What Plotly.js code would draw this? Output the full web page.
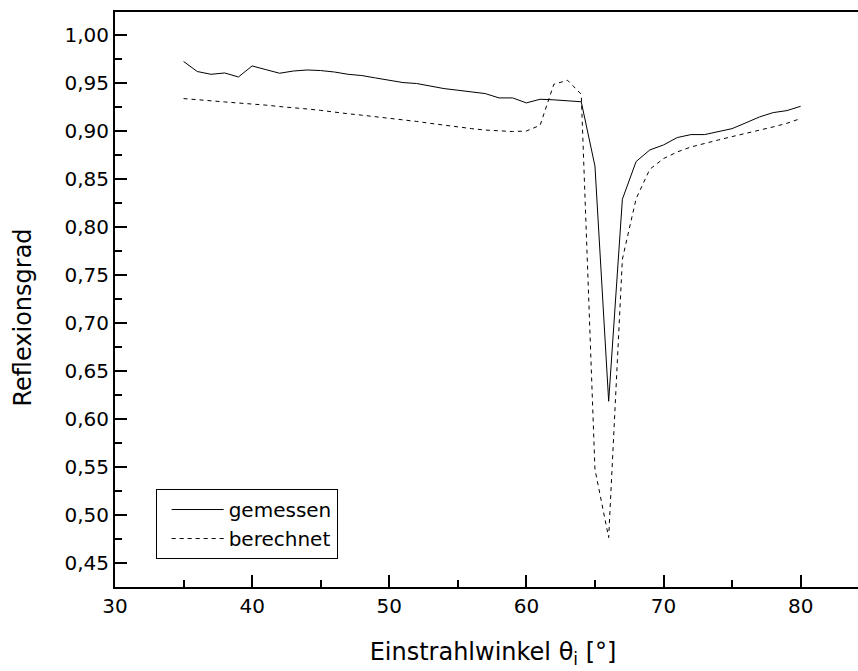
<!DOCTYPE html>
<html>
<head>
<meta charset="utf-8">
<script src="https://cdn.plot.ly/plotly-3.0.1.min.js"></script>
<style>
html, body { margin: 0; padding: 0; overflow: hidden; background: #fff; }
#chart { width: 872px; height: 671px; }
</style>
</head>
<body>
<div id="chart"></div>
<script>
const angles = [35,36,37,38,39,40,41,42,43,44,45,46,47,48,49,50,51,52,53,54,55,56,57,58,59,60,61,62,63,64,65,66,67,68,69,70,71,72,73,74,75,76,77,78,79,80];
const gemessen = [0.972,0.9615,0.9586,0.960,0.9558,0.9673,0.9635,0.9597,0.962,0.9631,0.9625,0.961,0.9586,0.9573,0.9548,0.9527,0.950,0.949,0.9465,0.9437,0.942,0.9406,0.9385,0.934,0.934,0.9288,0.9326,0.932,0.9312,0.930,0.863,0.618,0.8285,0.8677,0.8798,0.885,0.8927,0.8958,0.8958,0.899,0.902,0.908,0.9142,0.9187,0.9208,0.9253];
const berechnet = [0.9333,0.9325,0.931,0.9298,0.9288,0.928,0.9265,0.925,0.924,0.9225,0.921,0.919,0.9175,0.916,0.9145,0.913,0.9112,0.9095,0.9075,0.9055,0.904,0.902,0.9005,0.8995,0.899,0.8995,0.9055,0.9482,0.9524,0.9378,0.547,0.476,0.766,0.829,0.8597,0.8708,0.8777,0.8829,0.8868,0.8902,0.8937,0.8969,0.9003,0.9038,0.9076,0.9125];
const seriesNames = ["gemessen", "berechnet"];
const xTitle = "Einstrahlwinkel θ<sub>i</sub> [°]";
const yTitle = "Reflexionsgrad";

const font = "DejaVu Sans, Arial, sans-serif";

const traces = [
  { x: angles, y: gemessen, name: seriesNames[0], type: "scatter", mode: "lines",
    line: { color: "#000", width: 1 } },
  { x: angles, y: berechnet, name: seriesNames[1], type: "scatter", mode: "lines",
    line: { color: "#000", width: 1, dash: "4px,4px" } }
];

const layout = {
  width: 872, height: 671,
  margin: { l: 115, r: 1, t: 12, b: 84 },
  paper_bgcolor: "#fff", plot_bgcolor: "#fff",
  separators: ",.",
  font: { family: font, color: "#000", size: 20 },
  showlegend: true,
  legend: {
    x: 0.0538, y: 0.1704, xanchor: "left", yanchor: "top",
    bordercolor: "#000", borderwidth: 1, bgcolor: "#fff",
    font: { family: font, size: 20, color: "#000" },
    itemwidth: 52, indentation: 10, tracegroupgap: 0,
    entrywidth: 190, entrywidthmode: "pixels"
  },
  xaxis: {
    range: [30, 85.13], dtick: 10, tick0: 0,
    showgrid: false, zeroline: false,
    showline: true, linecolor: "#000", linewidth: 2, mirror: true,
    ticks: "inside", ticklen: 12, tickwidth: 2, tickcolor: "#000",
    minor: { dtick: 5, ticks: "inside", ticklen: 7, tickwidth: 2, tickcolor: "#000" },
    tickfont: { family: font, size: 20, color: "#000" },
    title: { text: xTitle, font: { family: font, size: 24, color: "#000" }, standoff: 26 },
    automargin: false
  },
  yaxis: {
    range: [0.4245, 1.0235], dtick: 0.05, tick0: 0, tickformat: ".2f",
    showgrid: false, zeroline: false,
    showline: true, linecolor: "#000", linewidth: 2, mirror: true,
    ticks: "inside", ticklen: 12, tickwidth: 2, tickcolor: "#000",
    minor: { dtick: 0.025, ticks: "inside", ticklen: 7, tickwidth: 2, tickcolor: "#000" },
    tickfont: { family: font, size: 20, color: "#000" },
    automargin: false
  },
  annotations: [{
    text: yTitle, textangle: -90, showarrow: false,
    xref: "paper", yref: "paper", x: -0.1223, y: 0.4678,
    xanchor: "center", yanchor: "middle",
    font: { family: font, size: 24, color: "#000" }
  }]
};

Plotly.newPlot("chart", traces, layout, { staticPlot: true, displayModeBar: false });
</script>
</body>
</html>
